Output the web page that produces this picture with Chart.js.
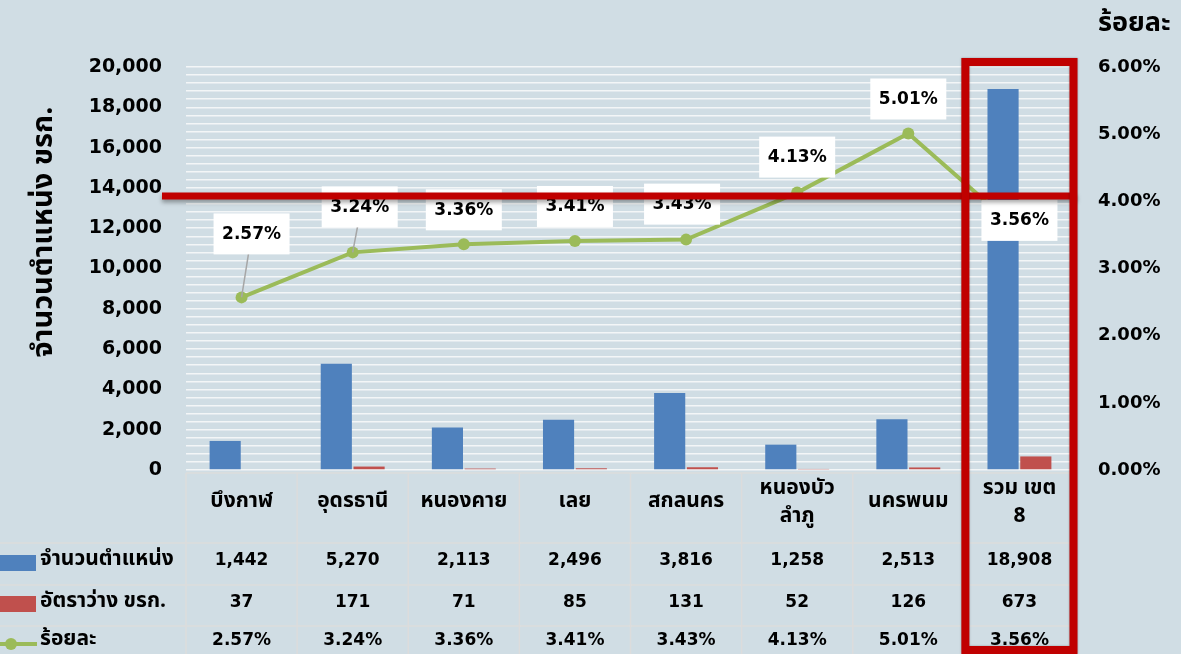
<!DOCTYPE html>
<html>
<head>
<meta charset="utf-8">
<script src="https://cdn.jsdelivr.net/npm/chart.js@4/dist/chart.umd.min.js"></script>
<style>
  html, body { margin: 0; padding: 0; background: #d0dde4; }
  #wrap { width: 1181px; height: 654px; }
</style>
</head>
<body>
<div id="wrap"><canvas id="chart" width="1181" height="654"></canvas></div>
<script>
// chart values
const categories = ['บึงกาฬ', 'อุดรธานี', 'หนองคาย', 'เลย', 'สกลนคร', ['หนองบัว', 'ลำภู'], 'นครพนม', ['รวม เขต', '8']];
const positions = [1442, 5270, 2113, 2496, 3816, 1258, 2513, 18908];
const vacancies = [37, 171, 71, 85, 131, 52, 126, 673];
const percents = [2.57, 3.24, 3.36, 3.41, 3.43, 4.13, 5.01, 3.56];
const seriesNames = ['จำนวนตำแหน่ง', 'อัตราว่าง ขรก.', 'ร้อยละ'];
const leftTitle = 'จำนวนตำแหน่ง ขรก.';
const rightTitle = 'ร้อยละ';
const markerLevel = 13600; // red line across the chart

const FONT = "'Noto Sans Thai', 'Noto Sans', sans-serif";
const NUMFONT = "'DejaVu Sans', 'Noto Sans Thai', sans-serif";
const BLUE = '#4f81bd', RED = '#c0504d', GREEN = '#9bbb59', DARKRED = '#c00000';

// where each percent label sits relative to its point (dx, dy)
const labelShift = [[10, -64], [7, -46], [0, -35], [0, -35], [-4, -36], [0, -36], [0, -35], [0, -11]];

const fmt = v => v.toLocaleString('en-US');

const extras = {
  id: 'extras',
  afterDatasetsDraw(chart) {
    const ctx = chart.ctx;
    const meta = chart.getDatasetMeta(0);
    ctx.save();
    ctx.font = 'bold 17px ' + NUMFONT;
    ctx.textAlign = 'center';
    ctx.textBaseline = 'middle';
    meta.data.forEach((pt, i) => {
      const [dx, dy] = labelShift[i];
      const cx = pt.x + dx, cy = pt.y + dy;
      if (dy < -40) {
        ctx.strokeStyle = '#a6a6a6';
        ctx.lineWidth = 1.5;
        ctx.beginPath();
        ctx.moveTo(cx - dx * 0.3, cy + 20);
        ctx.lineTo(pt.x, pt.y);
        ctx.stroke();
      }
      ctx.fillStyle = '#ffffff';
      ctx.fillRect(cx - 38, cy - 20, 76, 41);
      ctx.fillStyle = '#000';
      ctx.fillText(percents[i].toFixed(2) + '%', cx, cy + 1);
    });
    ctx.restore();
  },
  afterDraw(chart) {
    const ctx = chart.ctx;
    const xs = chart.scales.x;
    const ys = chart.scales.y;
    const area = chart.chartArea;
    const colW = (area.right - area.left) / categories.length;
    const rowLines = [area.bottom + 3, 543, 585, 626];
    const rowMid = [561, 603, 641];

    ctx.save();
    // table grid
    ctx.strokeStyle = '#dcdcdc';
    ctx.lineWidth = 1.5;
    rowLines.forEach((y, i) => {
      ctx.beginPath();
      ctx.moveTo(i === 0 ? area.left : 0, y);
      ctx.lineTo(area.right, y);
      ctx.stroke();
    });
    for (let i = 0; i <= categories.length; i++) {
      const x = area.left + i * colW;
      ctx.beginPath();
      ctx.moveTo(x, rowLines[0]);
      ctx.lineTo(x, 654);
      ctx.stroke();
    }

    ctx.fillStyle = '#000';
    ctx.textAlign = 'center';
    ctx.textBaseline = 'middle';
    categories.forEach((c, i) => {
      const x = xs.getPixelForValue(i);
      ctx.font = 'bold 21px ' + FONT;
      if (Array.isArray(c)) {
        ctx.fillText(c[0], x, 490);
        ctx.fillText(c[1], x, 518);
      } else {
        ctx.fillText(c, x, 503);
      }
      ctx.font = 'bold 17px ' + NUMFONT;
      ctx.fillText(fmt(positions[i]), x, rowMid[0]);
      ctx.fillText(fmt(vacancies[i]), x, rowMid[1]);
      ctx.fillText(percents[i].toFixed(2) + '%', x, rowMid[2]);
    });

    // row legend keys
    ctx.fillStyle = BLUE;
    ctx.fillRect(0, 555, 36, 16);
    ctx.fillStyle = RED;
    ctx.fillRect(0, 596, 36, 16);
    ctx.strokeStyle = GREEN;
    ctx.lineWidth = 4;
    ctx.beginPath();
    ctx.moveTo(0, 644);
    ctx.lineTo(37, 644);
    ctx.stroke();
    ctx.fillStyle = GREEN;
    ctx.beginPath();
    ctx.arc(11, 644, 6, 0, Math.PI * 2);
    ctx.fill();

    ctx.fillStyle = '#000';
    ctx.textAlign = 'left';
    ctx.font = 'bold 21px ' + FONT;
    seriesNames.forEach((n, i) => ctx.fillText(n, 40, rowMid[i]));

    // right axis title
    ctx.font = 'bold 27px ' + FONT;
    ctx.fillText(rightTitle, 1098, 26);

    // left axis title
    ctx.save();
    ctx.translate(46, 232);
    ctx.rotate(-Math.PI / 2);
    ctx.textAlign = 'center';
    ctx.font = 'bold 29px ' + FONT;
    ctx.fillText(leftTitle, 0, 0);
    ctx.restore();

    // red highlight line and box
    const yLine = ys.getPixelForValue(markerLevel);
    ctx.shadowColor = 'rgba(0,0,0,0.35)';
    ctx.shadowBlur = 4;
    ctx.shadowOffsetY = 3;
    ctx.strokeStyle = DARKRED;
    ctx.lineWidth = 7;
    ctx.beginPath();
    ctx.moveTo(162, yLine);
    ctx.lineTo(area.right + 2, yLine);
    ctx.stroke();

    const last = categories.length - 1;
    const bx = xs.getPixelForValue(last);
    ctx.lineWidth = 8;
    ctx.shadowOffsetY = 0;
    ctx.shadowBlur = 2;
    ctx.strokeRect(bx - colW / 2 + 1.5, 62, colW - 3, 588);
    ctx.restore();
  }
};

new Chart(document.getElementById('chart'), {
  data: {
    labels: categories,
    datasets: [
      {
        type: 'line',
        label: seriesNames[2],
        data: percents,
        yAxisID: 'y1',
        borderColor: GREEN,
        backgroundColor: GREEN,
        borderWidth: 4,
        pointRadius: 6,
        pointBackgroundColor: GREEN,
        pointBorderWidth: 0,
        order: 0
      },
      {
        type: 'bar',
        label: seriesNames[0],
        data: positions,
        yAxisID: 'y',
        backgroundColor: BLUE,
        categoryPercentage: 0.59,
        barPercentage: 0.95,
        order: 1
      },
      {
        type: 'bar',
        label: seriesNames[1],
        data: vacancies,
        yAxisID: 'y',
        backgroundColor: RED,
        categoryPercentage: 0.59,
        barPercentage: 0.95,
        order: 2
      }
    ]
  },
  options: {
    responsive: false,
    animation: false,
    devicePixelRatio: 1,
    layout: { padding: { top: 67, bottom: 184, left: 0, right: 0 } },
    plugins: {
      legend: { display: false },
      tooltip: { enabled: false }
    },
    scales: {
      x: { display: false },
      y: {
        position: 'left',
        min: 0,
        max: 20000,
        afterFit: s => { s.width = 186; },
        ticks: {
          stepSize: 400,
          autoSkip: false,
          padding: 24,
          color: '#000',
          font: { family: NUMFONT, size: 19, weight: 'bold' },
          callback: v => (v % 2000 === 0 ? fmt(v) : '')
        },
        grid: { color: '#f3f6f7', lineWidth: 1.5, drawTicks: false },
        border: { display: false }
      },
      y1: {
        position: 'right',
        min: 0,
        max: 6,
        afterFit: s => { s.width = 106; },
        ticks: {
          stepSize: 1,
          padding: 23,
          color: '#000',
          font: { family: NUMFONT, size: 18, weight: 'bold' },
          callback: v => v.toFixed(2) + '%'
        },
        grid: { display: false, drawTicks: false },
        border: { display: false }
      }
    }
  },
  plugins: [extras]
});
</script>
</body>
</html>
